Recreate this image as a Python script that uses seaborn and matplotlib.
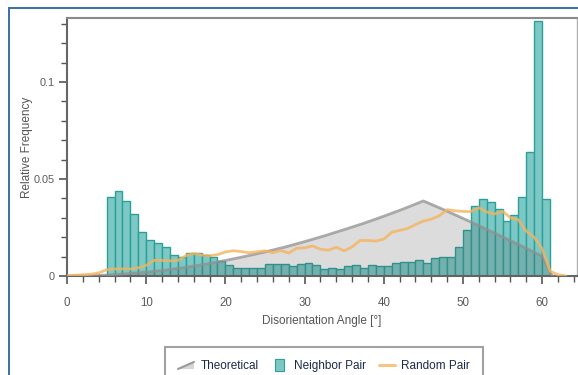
import numpy as np
import pandas as pd
import seaborn as sns
import matplotlib
matplotlib.use("Agg")
import matplotlib.pyplot as plt
from matplotlib.patches import Polygon, Rectangle, Patch
from matplotlib.lines import Line2D
from matplotlib.legend_handler import HandlerPatch
from matplotlib.ticker import MultipleLocator, FixedLocator

# ---------------- data ----------------
# Neighbor pair histogram: 1-degree bins, left edges 5..60
nb_left = list(range(5, 61))
nb_freq = [0.0409, 0.0438, 0.0386, 0.0318, 0.0227, 0.0188, 0.0172, 0.0147, 0.0110, 0.0100,
           0.0116, 0.0119, 0.0108, 0.0100, 0.0077, 0.0055, 0.0040, 0.0040, 0.0040, 0.0040,
           0.0062, 0.0062, 0.0062, 0.0050, 0.0060, 0.0069, 0.0055, 0.0037, 0.0043, 0.0037,
           0.0050, 0.0058, 0.0042, 0.0058, 0.0050, 0.0050, 0.0067, 0.0072, 0.0073, 0.0082,
           0.0067, 0.0091, 0.0098, 0.0098, 0.0151, 0.0237, 0.0361, 0.0398, 0.0383, 0.0345,
           0.0285, 0.0314, 0.0405, 0.0638, 0.1316, 0.0397]

# Random pair curve
rp_angle = list(range(0, 64))
rp_freq = [0.0000, 0.0004, 0.0006, 0.0009, 0.0016, 0.0032, 0.0036, 0.0037, 0.0036, 0.0042,
           0.0055, 0.0081, 0.0080, 0.0078, 0.0080, 0.0105, 0.0116, 0.0108, 0.0104, 0.0110,
           0.0124, 0.0130, 0.0126, 0.0120, 0.0125, 0.0130, 0.0120, 0.0132, 0.0118, 0.0143,
           0.0145, 0.0155, 0.0138, 0.0133, 0.0148, 0.0130, 0.0150, 0.0183, 0.0183, 0.0180,
           0.0190, 0.0225, 0.0235, 0.0245, 0.0265, 0.0283, 0.0293, 0.0310, 0.0342, 0.0336,
           0.0333, 0.0332, 0.0352, 0.0330, 0.0320, 0.0334, 0.0300, 0.0290, 0.0231, 0.0200,
           0.0140, 0.0025, 0.0006, 0.0000]

# Theoretical curve
th_angle = [0, 2.5, 5, 7.5, 10, 12.5, 15, 17.5, 20, 22.5, 25, 27.5, 30, 32.5, 35, 37.5,
            40, 42.5, 45, 47.5, 50, 52.5, 55, 57.5, 60, 61, 61.3]
th_freq = [0.0000, 0.0001, 0.0005, 0.0011, 0.0020, 0.0031, 0.0045, 0.0061, 0.0080, 0.0101,
           0.0124, 0.0149, 0.0177, 0.0207, 0.0239, 0.0272, 0.0308, 0.0346, 0.0387, 0.0343,
           0.0297, 0.0250, 0.0202, 0.0153, 0.0102, 0.0020, 0.0000]

x_major = [0, 10, 20, 30, 40, 50, 60]
y_major = [0, 0.05, 0.1]
y_major_labels = ["0", "0.05", "0.1"]

# ---------------- styling ----------------
sns.set_theme(style="white")
plt.rcParams['font.family'] = ['Liberation Sans Narrow', 'Liberation Sans', 'DejaVu Sans']

W, H = 578, 375
fig = plt.figure(figsize=(W / 100, H / 100), dpi=100)
ax = fig.add_axes([67 / W, 1 - 276 / H, (577 - 67) / W, (276 - 18) / H])

bar_face = "#7dc8c4"
bar_edge = "#2aa09a"
orange = "#f6b35e"

nb_df = pd.DataFrame({"angle": [v + 0.5 for v in nb_left], "freq": nb_freq})
sns.histplot(data=nb_df, x="angle", weights="freq", bins=len(nb_left),
             binrange=(nb_left[0], nb_left[-1] + 1),
             stat="count", color=bar_face, edgecolor=bar_edge, linewidth=1.0,
             alpha=1.0, ax=ax, zorder=2)

# Theoretical: translucent overlay + outline
ax.fill_between(th_angle, th_freq, 0, color=(0.33, 0.33, 0.33), alpha=0.2,
                linewidth=0, zorder=3)
sns.lineplot(x=th_angle, y=th_freq, color="#8f8f8f", linewidth=2.0, alpha=0.75,
             ax=ax, zorder=3, sort=False)

rp_df = pd.DataFrame({"angle": rp_angle, "freq": rp_freq})
sns.lineplot(data=rp_df, x="angle", y="freq", color=orange, linewidth=2.0,
             alpha=0.8, ax=ax, zorder=4)

ax.set_xlim(0, 64.4)
ax.set_ylim(0, 0.133)

ax.xaxis.set_major_locator(FixedLocator(x_major))
ax.xaxis.set_minor_locator(MultipleLocator(2))
ax.yaxis.set_major_locator(FixedLocator(y_major))
ax.set_yticklabels(y_major_labels)
ax.yaxis.set_minor_locator(MultipleLocator(0.01))

tick_col = "#5a5a5a"
ax.tick_params(axis="both", which="major", direction="out", length=6, width=1.2,
               color="#555555", labelcolor=tick_col, bottom=True, left=True)
ax.tick_params(axis="both", which="minor", direction="out", length=4, width=1.0,
               color="#555555", bottom=True, left=True)
ax.tick_params(axis="x", which="major", pad=9, labelsize=8.3)
ax.tick_params(axis="y", which="major", pad=3, labelsize=7.8)

for s in ["left", "bottom"]:
    ax.spines[s].set_color("#666666")
    ax.spines[s].set_linewidth(1.5)
ax.spines["top"].set_color("#8a8a8a")
ax.spines["top"].set_linewidth(1.5)
ax.spines["right"].set_color("#b0b0b0")
ax.spines["right"].set_linewidth(1.0)

ax.set_xlabel("Disorientation Angle [°]", fontsize=8.5, color="#555555")
ax.set_ylabel("Relative Frequency", fontsize=8.5, color="#555555")
ax.xaxis.set_label_coords(0.5, -(321 - 276) / 258, transform=ax.transAxes)
ax.xaxis.label.set_va("center")
ax.yaxis.set_label_coords(-(67 - 27) / 510, 0.5, transform=ax.transAxes)
ax.yaxis.label.set_va("center")


# ---------------- legend ----------------
class HandlerTriangle(HandlerPatch):
    def create_artists(self, legend, orig_handle, xdescent, ydescent, width, height,
                       fontsize, trans):
        x0, y0 = -xdescent, -ydescent
        tri = Polygon([[x0, y0], [x0 + width, y0], [x0 + width, y0 + height * 0.85]],
                      closed=True, facecolor="#d6d6d6", edgecolor="none", transform=trans)
        ln = Line2D([x0, x0 + width], [y0, y0 + height * 0.85], color="#9a9a9a",
                    linewidth=1.5, transform=trans)
        return [tri, ln]


class HandlerSquare(HandlerPatch):
    def create_artists(self, legend, orig_handle, xdescent, ydescent, width, height,
                       fontsize, trans):
        x0, y0 = -xdescent, -ydescent
        w = width * 0.55
        r = Rectangle((x0 + (width - w) / 2, y0 - height * 0.2), w, height * 1.4,
                      facecolor=bar_face, edgecolor=bar_edge, linewidth=0.8,
                      transform=trans)
        return [r]


h_theo = Patch(facecolor="#d6d6d6")
h_nb = Patch(facecolor=bar_face)
h_rp = Line2D([], [], color="#f8c585", linewidth=2.2)

leg = fig.legend([h_theo, h_nb, h_rp], ["Theoretical", "Neighbor Pair", "Random Pair"],
                 loc="upper left", bbox_to_anchor=(165 / W, 1 - 347 / H),
                 ncol=3, frameon=True, fancybox=False, fontsize=8.5,
                 handler_map={h_theo: HandlerTriangle(), h_nb: HandlerSquare()},
                 handlelength=1.35, handletextpad=0.55, columnspacing=1.1,
                 borderpad=1.1, borderaxespad=0)
leg.get_frame().set_edgecolor("#8a8a8a")
leg.get_frame().set_linewidth(1.5)
for t in leg.get_texts():
    t.set_color("#1a2a4a")

# outer blue frame
fig.patches.append(Rectangle((8.5 / W, -0.2), 2.0, 1.2 - 7.5 / H,
                             transform=fig.transFigure, fill=False,
                             edgecolor="#3d6ea8", linewidth=1.4))

fig.savefig("out.png", dpi=100)
